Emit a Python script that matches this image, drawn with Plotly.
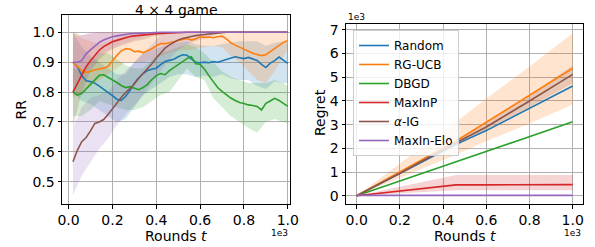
import plotly.graph_objects as go

# ---------------- data: left panel (RR vs rounds) ----------------
T = list(range(20, 1001, 20))          # rounds (50 points)
TB = [20, 60, 100, 140, 180, 220, 260, 300, 340, 380, 420, 460, 500,
      540, 580, 620, 660, 700, 740, 780, 820, 860, 900, 940, 980, 1000]

rr_random = [.900, .885, .855, .838, .835, .830, .820, .810, .800, .788,
             .776, .772, .785, .805, .830, .848, .862, .872, .876, .880,
             .892, .902, .906, .910, .918, .925, .923, .910, .900, .898,
             .900, .898, .902, .900, .905, .910, .915, .918, .915, .912,
             .916, .910, .906, .893, .882, .897, .905, .917, .905, .896]
rr_rgucb = [.900, .885, .872, .866, .869, .875, .878, .880, .886, .905,
            .922, .938, .945, .944, .935, .937, .932, .938, .945, .955,
            .962, .962, .965, .968, .972, .976, .979, .974, .978, .985,
            .983, .984, .982, .985, .987, .978, .965, .957, .950, .942,
            .935, .930, .926, .922, .925, .935, .946, .957, .966, .973]
rr_dbgd = [.800, .790, .795, .810, .825, .840, .856, .858, .850, .840,
           .832, .822, .815, .818, .812, .808, .815, .826, .842, .855,
           .862, .858, .872, .882, .892, .902, .912, .918, .895, .893,
           .876, .855, .835, .815, .802, .790, .780, .772, .765, .762,
           .757, .755, .752, .740, .762, .770, .779, .772, .762, .752]
rr_maxinp = [.800, .830, .857, .885, .905, .924, .940, .952, .961, .968,
             .973, .978, .982, .986, .988, .990, .992, .993, .994, .995,
             .996, .997, .998, .999, 1.0, 1.0, 1.0, 1.0, 1.0, 1.0,
             1.0, 1.0, 1.0, 1.0, 1.0, 1.0, 1.0, 1.0, 1.0, 1.0,
             1.0, 1.0, 1.0, 1.0, 1.0, 1.0, 1.0, 1.0, 1.0, 1.0]
rr_aig = [.567, .605, .634, .648, .670, .695, .700, .708, .725, .745,
          .763, .782, .798, .812, .827, .846, .862, .876, .895, .914,
          .932, .947, .958, .966, .974, .979, .983, .987, .989, .991,
          .993, .995, .996, .998, .999, 1.0, 1.0, 1.0, 1.0, 1.0,
          1.0, 1.0, 1.0, 1.0, 1.0, 1.0, 1.0, 1.0, 1.0, 1.0]
rr_elo = [.900, .900, .905, .928, .941, .954, .966, .974, .980, .985,
          .988, .991, .993, .995, .996, .997, .998, .998, .999, .999,
          1.0, 1.0, 1.0, 1.0, 1.0, 1.0, 1.0, 1.0, 1.0, 1.0,
          1.0, 1.0, 1.0, 1.0, 1.0, 1.0, 1.0, 1.0, 1.0, 1.0,
          1.0, 1.0, 1.0, 1.0, 1.0, 1.0, 1.0, 1.0, 1.0, 1.0]

# band edges (on TB grid)
lo_random = [.80, .77, .76, .74, .72, .70, .71, .75, .79, .81, .83, .85, .86,
             .86, .85, .855, .85, .86, .845, .84, .84, .82, .81, .835, .83, .83]
hi_random = [1.0, .95, .92, .90, .88, .86, .86, .90, .93, .94, .95, .96, .965,
             .97, .96, .955, .955, .96, .965, .97, .97, .97, .955, .965, .97, .965]
lo_rgucb = [.78, .80, .82, .84, .86, .88, .90, .90, .90, .91, .92, .93, .94,
            .94, .945, .95, .955, .95, .92, .90, .87, .84, .83, .87, .92, .94]
hi_rgucb = [1.0, .98, .97, .96, .97, .98, .99, .99, .99, 1.0, 1.0, 1.0, 1.0,
            1.0, 1.0, 1.0, 1.0, 1.0, 1.0, 1.0, 1.0, 1.0, 1.0, 1.0, 1.0, 1.0]
lo_dbgd = [.72, .72, .74, .77, .76, .75, .74, .74, .75, .77, .79, .80, .84,
           .88, .85, .84, .78, .75, .72, .70, .68, .665, .70, .71, .70, .695]
hi_dbgd = [.88, .87, .90, .93, .93, .91, .89, .88, .88, .91, .93, .94, .95,
           .96, .95, .93, .90, .87, .85, .84, .83, .83, .83, .84, .83, .82]
lo_maxinp = [.68, .80, .87, .91, .935, .95, .96, .97, .975, .985, .99, .995, 1.0,
             1.0, 1.0, 1.0, 1.0, 1.0, 1.0, 1.0, 1.0, 1.0, 1.0, 1.0, 1.0, 1.0]
hi_maxinp = [1.0, .99, .995, 1.0, 1.0, 1.0, 1.0, 1.0, 1.0, 1.0, 1.0, 1.0, 1.0,
             1.0, 1.0, 1.0, 1.0, 1.0, 1.0, 1.0, 1.0, 1.0, 1.0, 1.0, 1.0, 1.0]
lo_aig = [.455, .52, .565, .61, .645, .69, .725, .755, .79, .83, .87, .91, .94,
          .96, .97, .98, .99, 1.0, 1.0, 1.0, 1.0, 1.0, 1.0, 1.0, 1.0, 1.0]
hi_aig = [.68, .75, .78, .79, .80, .84, .87, .90, .93, .96, .99, 1.0, 1.0,
          1.0, 1.0, 1.0, 1.0, 1.0, 1.0, 1.0, 1.0, 1.0, 1.0, 1.0, 1.0, 1.0]
lo_elo = [.82, .84, .88, .92, .94, .955, .965, .975, .985, .99, .995, 1.0, 1.0,
          1.0, 1.0, 1.0, 1.0, 1.0, 1.0, 1.0, 1.0, 1.0, 1.0, 1.0, 1.0, 1.0]
hi_elo = [.98, .99, 1.0, 1.0, 1.0, 1.0, 1.0, 1.0, 1.0, 1.0, 1.0, 1.0, 1.0,
          1.0, 1.0, 1.0, 1.0, 1.0, 1.0, 1.0, 1.0, 1.0, 1.0, 1.0, 1.0, 1.0]

# ---------------- data: right panel (regret vs rounds) ----------------
RT = [0, 200, 400, 460, 600, 800, 1000]
rg_random = [0, 950, 1900, 2170, 2750, 3700, 4630]
rg_rgucb = [0, 1000, 2000, 2310, 3100, 4250, 5380]
rg_dbgd = [0, 620, 1250, 1440, 1870, 2500, 3120]
rg_maxinp = [0, 200, 400, 460, 462, 466, 470]
rg_aig = [0, 950, 1950, 2240, 2900, 4000, 5120]
rg_elo = [20, 20, 20, 20, 20, 20, 20]
rg_lo_rgucb = [0, 750, 1500, 1730, 2300, 3050, 3850]
rg_hi_rgucb = [0, 1350, 2700, 3110, 4100, 5450, 6850]
rg_lo_maxinp = [0, 100, 200, 230, 235, 238, 240]
rg_hi_maxinp = [0, 380, 760, 880, 880, 880, 880]
rg_lo_aig = [0, 900, 1850, 2130, 2750, 3750, 4750]
rg_hi_aig = [0, 1000, 2050, 2360, 3050, 4250, 5500]

names = ["Random", "RG-UCB", "DBGD", "MaxInP", "<i>α</i>-IG", "MaxIn-Elo"]
colors = ["#1f77b4", "#ff7f0e", "#2ca02c", "#d62728", "#8c564b", "#9467bd"]

x_ticks = [0, 200, 400, 600, 800, 1000]
x_ticktext = ["0.0", "0.2", "0.4", "0.6", "0.8", "1.0"]
rr_ticks = [0.5, 0.6, 0.7, 0.8, 0.9, 1.0]
rr_ticktext = ["0.5", "0.6", "0.7", "0.8", "0.9", "1.0"]
rg_ticks = [0, 1000, 2000, 3000, 4000, 5000, 6000, 7000]
rg_ticktext = ["0", "1", "2", "3", "4", "5", "6", "7"]

FONT = "DejaVu Sans"
fig = go.Figure()


def band(x, lo, hi, fill, xa, ya):
    fig.add_trace(go.Scatter(x=x, y=lo, mode="lines", line=dict(width=0),
                             showlegend=False, hoverinfo="skip", xaxis=xa, yaxis=ya))
    fig.add_trace(go.Scatter(x=x, y=hi, mode="lines", line=dict(width=0),
                             fill="tonexty", fillcolor=fill, showlegend=False,
                             hoverinfo="skip", xaxis=xa, yaxis=ya))


# left bands (fill colours as they appear in the reference)
band(TB, lo_random, hi_random, "rgba(31,119,180,0.2)", "x", "y")
band(TB, lo_rgucb, hi_rgucb, "rgba(255,127,14,0.2)", "x", "y")
band(TB, lo_dbgd, hi_dbgd, "rgba(44,160,44,0.2)", "x", "y")
band(TB, lo_maxinp, hi_maxinp, "rgba(140,86,75,0.2)", "x", "y")
band(TB, lo_aig, hi_aig, "rgba(148,103,189,0.2)", "x", "y")
band(TB, lo_elo, hi_elo, "rgba(227,119,194,0.2)", "x", "y")

left_series = [rr_random, rr_rgucb, rr_dbgd, rr_maxinp, rr_aig, rr_elo]
for s, c, n in zip(left_series, colors, names):
    fig.add_trace(go.Scatter(x=T, y=s, mode="lines", line=dict(color=c, width=1.6),
                             name=n, showlegend=False, xaxis="x", yaxis="y"))

# right bands
band(RT, rg_lo_rgucb, rg_hi_rgucb, "rgba(255,127,14,0.2)", "x2", "y2")
band(RT, rg_lo_maxinp, rg_hi_maxinp, "rgba(214,39,40,0.2)", "x2", "y2")
band(RT, rg_lo_aig, rg_hi_aig, "rgba(140,86,75,0.2)", "x2", "y2")

right_series = [rg_random, rg_rgucb, rg_dbgd, rg_maxinp, rg_aig, rg_elo]
for s, c, n in zip(right_series, colors, names):
    fig.add_trace(go.Scatter(x=RT, y=s, mode="lines", line=dict(color=c, width=1.6),
                             name=n, showlegend=True, xaxis="x2", yaxis="y2"))

W, H = 595, 247
ax_common = dict(showgrid=True, gridcolor="#b0b0b0", gridwidth=1, zeroline=False,
                 showline=True, linecolor="black", linewidth=1, mirror=True,
                 ticks="outside", ticklen=3.5, tickcolor="black", tickwidth=1,
                 tickfont=dict(family=FONT, size=14, color="black"))

fig.update_layout(
    width=W, height=H, margin=dict(l=0, r=0, t=0, b=0, autoexpand=False),
    paper_bgcolor="white", plot_bgcolor="white",
    font=dict(family=FONT, size=14, color="black"),
    xaxis=dict(domain=[62 / W, 290 / W], range=[-30, 1010], tickvals=x_ticks,
               ticktext=x_ticktext, anchor="y", **ax_common),
    yaxis=dict(domain=[(H - 204) / H, (H - 15) / H], range=[0.4254, 1.0579],
               tickvals=rr_ticks, ticktext=rr_ticktext, anchor="x", **ax_common),
    xaxis2=dict(domain=[346 / W, 583 / W], range=[-49.5, 1047.7], tickvals=x_ticks,
                ticktext=x_ticktext, anchor="y2", **ax_common),
    yaxis2=dict(domain=[(H - 204) / H, (H - 24) / H], range=[-345, 7245],
                tickvals=rg_ticks, ticktext=rg_ticktext, anchor="x2", **ax_common),
    legend=dict(x=353 / W, y=(H - 30) / H, xanchor="left", yanchor="top",
                bgcolor="rgba(255,255,255,0.8)", bordercolor="#cccccc", borderwidth=1,
                font=dict(family=FONT, size=12, color="black"), tracegroupgap=0,
                traceorder="normal"),
    showlegend=True,
)

ann = [
    dict(text="4 × 4 game", x=176 / W, y=(H - 10) / H, font=dict(size=14)),
    dict(text="RR", x=20 / W, y=(H - 109.5) / H, textangle=-90, font=dict(size=14)),
    dict(text="Regret", x=320 / W, y=(H - 113) / H, textangle=-90, font=dict(size=14)),
    dict(text="Rounds <i>t</i>", x=176 / W, y=(H - 236) / H, font=dict(size=14)),
    dict(text="Rounds <i>t</i>", x=465 / W, y=(H - 236) / H, font=dict(size=14)),
    dict(text="1e3", x=290 / W, y=(H - 233) / H, xanchor="right", font=dict(size=9)),
    dict(text="1e3", x=583 / W, y=(H - 233) / H, xanchor="right", font=dict(size=9)),
    dict(text="1e3", x=346 / W, y=(H - 17) / H, xanchor="left", font=dict(size=9)),
]
for a in ann:
    a.setdefault("xanchor", "center")
    fig.add_annotation(xref="paper", yref="paper", showarrow=False, yanchor="middle",
                       font=dict(family=FONT, size=a["font"]["size"], color="black"),
                       **{k: v for k, v in a.items() if k != "font"})

fig.write_html("out.html", config={"displayModeBar": False},
               post_script="document.body.style.margin='0';")
